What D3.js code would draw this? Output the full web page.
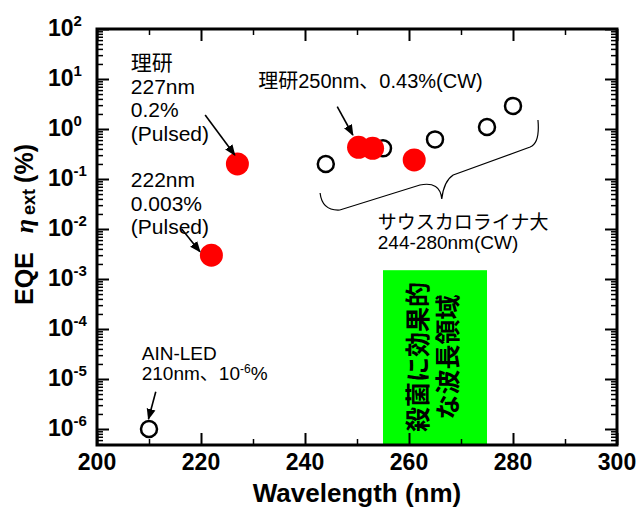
<!DOCTYPE html>
<html><head><meta charset="utf-8">
<script src="https://cdn.jsdelivr.net/npm/d3@7"></script>
<style>
body{margin:0;background:#fff;}
svg{display:block;}
text{font-family:"Liberation Sans",Arial,"Noto Sans CJK JP",sans-serif;}
</style></head>
<body>
<svg id="c" width="641" height="507"></svg>
<script>
// ---- data ----
const openWavelength = [210, 244, 255, 265, 275, 280];
const openEQE        = [1e-6, 0.2, 0.41, 0.62, 1.1, 2.9];
const rikenWavelength = [222, 227, 250.3, 253, 261];
const rikenEQE        = [0.003, 0.2, 0.43, 0.41, 0.24];
const xMajorTicks = [200, 220, 240, 260, 280, 300];
const xMinorTicks = [210, 230, 250, 270, 290];
const yTickExponents = [-6, -5, -4, -3, -2, -1, 0, 1, 2];
const bandRange = [255, 275];
const bandTop = 1.5e-3;
const bandLines = ["殺菌に効果的", "な波長領域"];

// ---- scales ----
const svg = d3.select("#c");
const L = 97, R = 617, T = 29, B = 445;
const x = d3.scaleLinear([200, 300], [L, R]);
const y = d3.scaleLog([Math.pow(10, -6.32), 100], [B, T]);
const P = (wl, lg) => [x(wl), y(Math.pow(10, lg))];

const yMinor = [];
for (let e = -7; e <= 1; e++) for (let k = 2; k <= 9; k++) {
  const v = k * Math.pow(10, e);
  if (v > y.domain()[0] && v < 100) yMinor.push(v);
}
const yMajor = yTickExponents.map(e => Math.pow(10, e));

// green band
svg.append("rect")
  .attr("x", x(bandRange[0])).attr("y", y(bandTop))
  .attr("width", x(bandRange[1]) - x(bandRange[0]))
  .attr("height", B - y(bandTop))
  .attr("fill", "#00ff00");

const bandText = svg.append("text")
  .attr("transform", `translate(${x(265)},${y(Math.pow(10,-4.56))}) rotate(-90)`)
  .attr("text-anchor", "middle")
  .style("font-family", "'Noto Sans CJK JP',sans-serif")
  .style("font-weight", "bold").style("font-size", "25px");
bandText.selectAll("tspan").data(bandLines).join("tspan")
  .attr("x", 0).attr("y", (d, i) => -8 + i * 30).text(d => d);

// ---- axes ----
function addAxis(axisFn, scale, values, size, tx, ty, sw) {
  const a = axisFn(scale).tickValues(values).tickSize(size).tickSizeOuter(0).tickFormat("");
  const g = svg.append("g").attr("transform", `translate(${tx},${ty})`).call(a);
  g.select(".domain").remove();
  g.selectAll("line").attr("stroke", "#000").attr("stroke-width", sw);
}
addAxis(d3.axisBottom, x, xMajorTicks, -12, 0, B, 2);
addAxis(d3.axisBottom, x, xMinorTicks, -6, 0, B, 1.5);
addAxis(d3.axisTop, x, xMajorTicks, -12, 0, T, 2);
addAxis(d3.axisTop, x, xMinorTicks, -6, 0, T, 1.5);
addAxis(d3.axisLeft, y, yMajor, -12, L, 0, 2);
addAxis(d3.axisLeft, y, yMinor, -6, L, 0, 1.5);
addAxis(d3.axisRight, y, yMajor, -12, R, 0, 2);
addAxis(d3.axisRight, y, yMinor, -6, R, 0, 1.5);

svg.append("rect").attr("x", L).attr("y", T).attr("width", R - L).attr("height", B - T)
  .attr("fill", "none").attr("stroke", "#000").attr("stroke-width", 3);

// x tick labels
svg.append("g").selectAll("text").data(xMajorTicks).join("text")
  .attr("x", d => x(d)).attr("y", 470).attr("text-anchor", "middle")
  .style("font-weight", "bold").style("font-size", "23px").text(d => d);

// y tick labels
const yl = svg.append("g").selectAll("text").data(yTickExponents).join("text")
  .attr("x", 48).attr("y", d => y(Math.pow(10, d)) + 7)
  .style("font-weight", "bold").style("font-size", "23px");
yl.append("tspan").text("10");
yl.append("tspan").attr("dy", -10).style("font-size", "15px").text(d => d);

// axis titles
svg.append("text").attr("x", (L + R) / 2).attr("y", 502).attr("text-anchor", "middle")
  .style("font-weight", "bold").style("font-size", "26px").text("Wavelength (nm)");

const yt = svg.append("text").attr("transform", "translate(33,305) rotate(-90)")
  .style("font-weight", "bold").style("font-size", "25px");
yt.append("tspan").text("EQE");
yt.append("tspan").attr("dx", 19).style("font-family", "'Liberation Serif',serif")
  .style("font-style", "italic").style("font-weight", "bold").style("font-size", "26px").text("η");
yt.append("tspan").attr("dx", 4).attr("dy", 2).style("font-size", "18px").text("ext");
yt.append("tspan").attr("dx", 6).attr("dy", -2).text("(%)");

// ---- data marks ----
svg.append("g").selectAll("circle").data(openWavelength).join("circle")
  .attr("cx", d => x(d)).attr("cy", (d, i) => y(openEQE[i])).attr("r", 8)
  .attr("fill", "#fff").attr("stroke", "#000").attr("stroke-width", 2.5);
svg.append("g").selectAll("circle").data(rikenWavelength).join("circle")
  .attr("cx", d => x(d)).attr("cy", (d, i) => y(rikenEQE[i])).attr("r", 11.5)
  .attr("fill", "#ff0000");

// ---- annotations ----
svg.append("defs").append("marker").attr("id", "ah")
  .attr("viewBox", "0 0 10 10").attr("refX", 9).attr("refY", 5)
  .attr("markerWidth", 7).attr("markerHeight", 7).attr("orient", "auto")
  .append("path").attr("d", "M0,1 L10,5 L0,9 Z").attr("fill", "#000");

function arrow(a, b) {
  svg.append("line").attr("x1", a[0]).attr("y1", a[1]).attr("x2", b[0]).attr("y2", b[1])
    .attr("stroke", "#000").attr("stroke-width", 1.6).attr("marker-end", "url(#ah)");
}
function block(pt, lines, size, lh) {
  const t = svg.append("text").attr("x", pt[0]).attr("y", pt[1]).style("font-size", size + "px");
  lines.forEach((s, i) => t.append("tspan").attr("x", pt[0]).attr("y", pt[1] + i * lh).text(s));
  return t;
}
block(P(206.5, 1.18), ["理研", "227nm", "0.2%", "(Pulsed)"], 21, 23.5);
arrow(P(220.8, 0.28), P(226.5, -0.52));
block(P(206.5, -1.16), ["222nm", "0.003%", "(Pulsed)"], 21, 23.5);
arrow(P(216.3, -2.0), P(219.8, -2.454));
block(P(231, 0.82), ["理研250nm、0.43%(CW)"], 20, 0);
arrow(P(246.2, 0.446), P(249.2, -0.12));
block(P(254, -2.0), ["サウスカロライナ大", "244-280nm(CW)"], 19, 19.5);

const aln = svg.append("text").attr("x", x(208.6)).attr("y", y(Math.pow(10, -4.62))).style("font-size", "19px");
aln.append("tspan").attr("x", x(208.6)).text("AIN-LED");
aln.append("tspan").attr("x", x(208.6)).attr("dy", 20).text("210nm、10");
aln.append("tspan").attr("dy", -7).style("font-size", "12px").text("-6");
aln.append("tspan").attr("dy", 7).text("%");
arrow(P(211.3, -5.254), P(209.9, -5.8));

// curly brace
const br = [P(242.9,-1.28), P(243.3,-1.64), P(246.7,-1.62), P(262.1,-1.12), P(266.0,-1.04),
            P(266.3,-1.40), P(266.7,-1.04), P(268.5,-0.92), P(283.3,-0.36), P(285.2,-0.28), P(284.8,0.18)];
const bp = d3.path();
bp.moveTo(...br[0]);
bp.quadraticCurveTo(...br[1], ...br[2]);
bp.lineTo(...br[3]);
bp.quadraticCurveTo(...br[4], ...br[5]);
bp.quadraticCurveTo(...br[6], ...br[7]);
bp.lineTo(...br[8]);
bp.quadraticCurveTo(...br[9], ...br[10]);
svg.append("path").attr("d", bp.toString()).attr("fill", "none").attr("stroke", "#000").attr("stroke-width", 1.2);
</script>
</body></html>
